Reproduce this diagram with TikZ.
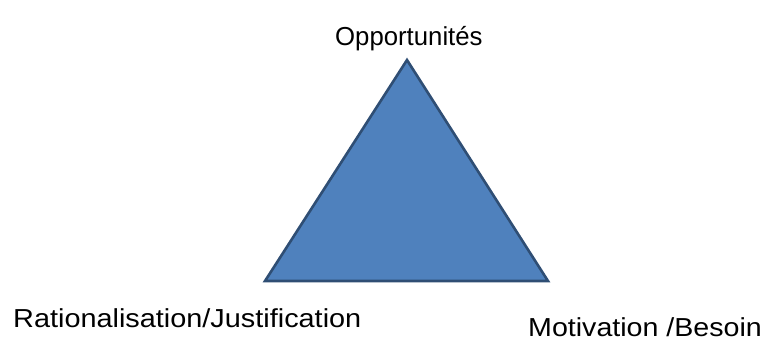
\documentclass[tikz,border=0pt]{standalone}
\usepackage{fontspec}
\usepackage{graphicx}
\setmainfont{Liberation Sans}
\definecolor{triFill}{HTML}{4F81BD}
\definecolor{triEdge}{HTML}{2F4E74}
\begin{document}
\begin{tikzpicture}[x=1pt,y=-1pt,
  lbl/.style={inner sep=0pt, font=\fontsize{26}{30}\selectfont, text=black},
  tri/.style={fill=triFill, draw=triEdge, line width=2.6pt, line join=miter}]
\useasboundingbox (0,0) rectangle (768,340);
% corners of the triangle
\coordinate (top) at (407,60);
\coordinate (bl) at (265,281);
\coordinate (br) at (548,281);
\filldraw[tri] (top) -- (br) -- (bl) -- cycle;
% corner labels
\node[lbl, anchor=base west] (opp) at (335,45) {\scalebox{0.99}[1]{Opportunités}};
\node[lbl, anchor=base west] (rat) at (13,327) {\scalebox{1.11}[1]{Rationalisation/Justification}};
\node[lbl, anchor=base west] (mot) at (528,336) {\scalebox{1.10}[1]{Motivation /Besoin}};
\end{tikzpicture}
\end{document}
